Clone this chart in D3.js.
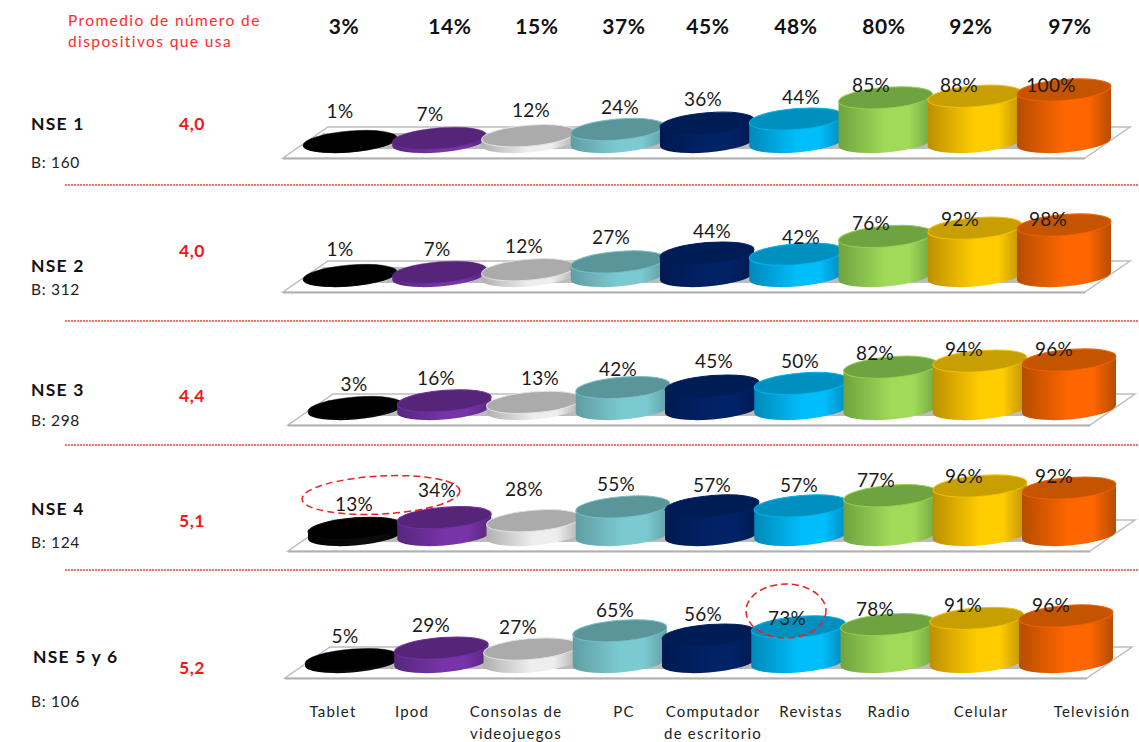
<!DOCTYPE html>
<html lang="es">
<head>
<meta charset="utf-8">
<style>
html,body{margin:0;padding:0;background:#fff}
svg{display:block}
text{font-family:Lato,"Open Sans",sans-serif}
</style>
<script src="https://cdn.jsdelivr.net/npm/d3@7/dist/d3.min.js"></script>
</head>
<body>
<script>
// Device use by socio-economic level
const devices = ["Tablet","Ipod","Consolas de videojuegos","PC","Computador de escritorio","Revistas","Radio","Celular","Televisión"];
const totals = [3,14,15,37,45,48,80,92,97];
const levels = ["NSE 1","NSE 2","NSE 3","NSE 4","NSE 5 y 6"];
const bases = [160,312,298,124,106];
const averages = ["4,0","4,0","4,4","5,1","5,2"];
const nse1 = [1,7,12,24,36,44,85,88,100];
const nse2 = [1,7,12,27,44,42,76,92,98];
const nse3 = [3,16,13,42,45,50,82,94,96];
const nse4 = [13,34,28,55,57,57,77,96,92];
const nse5 = [5,29,27,65,56,73,78,91,96];
const seriesByLevel = [nse1,nse2,nse3,nse4,nse5];

// Layout of each panel
const W = 1139, H = 742;
const floorFront = [158,292,425,551,678];
const panelShift = [0,0,5,5,2];
const panelScale = [0.52,0.52,0.51,0.51,0.48];
const dividers = [185,321,445,570];
const levelY = [130,272,396,515,663];
const baseY = [168,295,426,548,707];
const averageY = [130,257,402,527,674];
const labelX = [
  [340,430,531,620,703,801,871,959,1051],
  [340,437,524,611,712,801,871,960,1048],
  [354,436,540,618,714,800,875,964,1054],
  [354,437,524,616,712,799,876,964,1054],
  [345,431,518,615,703,787,875,963,1051]];
const labelY = [
  [118,121,117,114,106,104,92,92,92],
  [256,256,253,244,238,244,230,226,226],
  [391,385,385,376,368,368,360,356,356],
  [511,497,496,491,492,492,487,483,483],
  [643,632,634,617,621,625,616,612,612]];
const headerX = [344,450,537,624,708,796,884,971,1070];
const deviceX = [333,412,516,624,713,811,889,981,1092];

// top colour, then the body's edge and centre colours
const shades = [
  ["#000000","#000000","#0c0c0c"],
  ["#56257a","#57267c","#7733a8"],
  ["#ababab","#b0b0b0","#eeeeee"],
  ["#5a9599","#5f9ea3","#7ccad1"],
  ["#001c55","#001a50","#002266"],
  ["#0090bf","#0089b8","#00bdfb"],
  ["#6fa33f","#6fa33f","#a0da58"],
  ["#c79f00","#bd8f00","#ffcc00"],
  ["#c45400","#b54d00","#ff6600"]];

const RX = 47, RY = 10.5, SKEW = -4.5, DEPTH = 31, SLANT = 45;
const CX0 = 350, CX1 = 1064;

const svg = d3.select("body").append("svg").attr("width",W).attr("height",H).attr("viewBox",[0,0,W,H]);
const defs = svg.append("defs");

const grads = defs.selectAll("linearGradient").data(shades).join("linearGradient")
  .attr("id",(d,i)=>"body"+i).attr("x1",0).attr("x2",1).attr("y1",0).attr("y2",0);
grads.append("stop").attr("offset",0).attr("stop-color",d=>d[1]);
grads.append("stop").attr("offset",0.5).attr("stop-color",d=>d[2]);
grads.append("stop").attr("offset",0.75).attr("stop-color",d=>d[2]);
grads.append("stop").attr("offset",1).attr("stop-color",d=>d[1]);

const x = d3.scalePoint().domain(devices).range([CX0,CX1]);

// Column headline figures
svg.append("g").selectAll("text").data(totals).join("text")
  .attr("x",(d,i)=>headerX[i]).attr("y",34).attr("text-anchor","middle")
  .attr("font-size",21).attr("font-weight",700).attr("letter-spacing",0.6).attr("fill","#111")
  .text(d=>d+"%");

// Average-devices caption
svg.append("g").selectAll("text").data(["Promedio de número de","dispositivos que usa"]).join("text")
  .attr("x",68).attr("y",(d,i)=>26+i*21).attr("font-size",15.5).attr("letter-spacing",1.4).attr("fill","#ff2a2a").text(d=>d);

// Dotted separators between panels
svg.append("g").selectAll("line").data(dividers).join("line")
  .attr("x1",65).attr("x2",W).attr("y1",d=>d).attr("y2",d=>d)
  .attr("stroke","#ff4040").attr("stroke-width",1.6).attr("stroke-dasharray","2 1");

levels.forEach((level,r)=>{
  const g = svg.append("g").attr("class","panel");
  const front = floorFront[r], shift = panelShift[r];
  const back = front - DEPTH;
  const left = 283 + shift, right = 1085 + shift;
  const h = d3.scaleLinear().domain([0,100]).range([0,100*panelScale[r]]);
  const cy = front - 16;

  // Floor slab and the shadow the columns cast on it
  g.append("path")
    .attr("d",`M${left},${front}L${right},${front}L${right+SLANT},${back}L${left+SLANT},${back}Z`)
    .attr("fill","#fff").attr("stroke","#bdbdbd").attr("stroke-width",1.5);
  g.append("path")
    .attr("d",`M${left+24},${front-9}L${right-10},${front-9}L${right+24},${back+6}L${left+40},${back+6}Z`)
    .attr("fill","#bcbcbc");
  g.append("line").attr("x1",left).attr("x2",right).attr("y1",front+0.8).attr("y2",front+0.8)
    .attr("stroke","#b0b0b0").attr("stroke-width",1.5);

  // Columns, drawn left to right so each overlaps the previous one
  const cols = g.selectAll("g.col").data(seriesByLevel[r]).join("g").attr("class","col")
    .attr("transform",(d,i)=>`translate(${x(devices[i])+shift},${cy}) skewY(${SKEW})`);
  cols.append("path")
    .attr("d",d=>`M${-RX},0A${RX},${RY} 0 0 0 ${RX},0L${RX},${-h(d)}L${-RX},${-h(d)}Z`)
    .attr("fill",(d,i)=>`url(#body${i})`);
  cols.append("ellipse")
    .attr("cx",0).attr("cy",d=>-h(d)).attr("rx",RX).attr("ry",RY)
    .attr("fill",(d,i)=>shades[i][0])
    .attr("stroke",(d,i)=>d3.color(shades[i][2]).darker(0.15))
    .attr("stroke-width",d=>d>10?1:0.5);

  // Percentage labels
  g.selectAll("text.val").data(seriesByLevel[r]).join("text").attr("class","val")
    .attr("x",(d,i)=>labelX[r][i]).attr("y",(d,i)=>labelY[r][i])
    .attr("text-anchor","middle").attr("font-size",19).attr("letter-spacing",0.3).attr("fill","#1a1a1a")
    .text(d=>d+"%");

  // Panel caption on the left
  g.append("text").attr("x",r===4?33:31).attr("y",levelY[r])
    .attr("font-size",17.5).attr("font-weight",700).attr("letter-spacing",1.2).attr("fill","#111").text(level);
  g.append("text").attr("x",31).attr("y",baseY[r])
    .attr("font-size",15.5).attr("letter-spacing",0.7).attr("fill","#222").text("B: "+bases[r]);
  g.append("text").attr("x",179).attr("y",averageY[r])
    .attr("font-size",17.5).attr("font-weight",700).attr("letter-spacing",0.5).attr("fill","#f01818").text(averages[r]);
});

// Dashed call-outs around the notable readings
const callouts = svg.append("g").attr("fill","none").attr("stroke","#f02020").attr("stroke-width",1.5).attr("stroke-dasharray","7 4");
callouts.append("ellipse").attr("cx",381).attr("cy",495).attr("rx",79).attr("ry",19).attr("transform","rotate(-3 381 495)");
callouts.append("ellipse").attr("cx",786).attr("cy",611).attr("rx",40).attr("ry",27);

// Device names along the bottom
const names = [["Tablet"],["Ipod"],["Consolas de","videojuegos"],["PC"],["Computador","de escritorio"],["Revistas"],["Radio"],["Celular"],["Televisión"]];
svg.append("g").selectAll("text").data(names).join("text")
  .attr("text-anchor","middle").attr("font-size",15).attr("letter-spacing",1.2).attr("fill","#222")
  .attr("transform",(d,i)=>`translate(${deviceX[i]},717)`)
  .selectAll("tspan").data(d=>d).join("tspan")
  .attr("x",0).attr("dy",(d,i)=>i?22:0).text(d=>d);
</script>
</body>
</html>
